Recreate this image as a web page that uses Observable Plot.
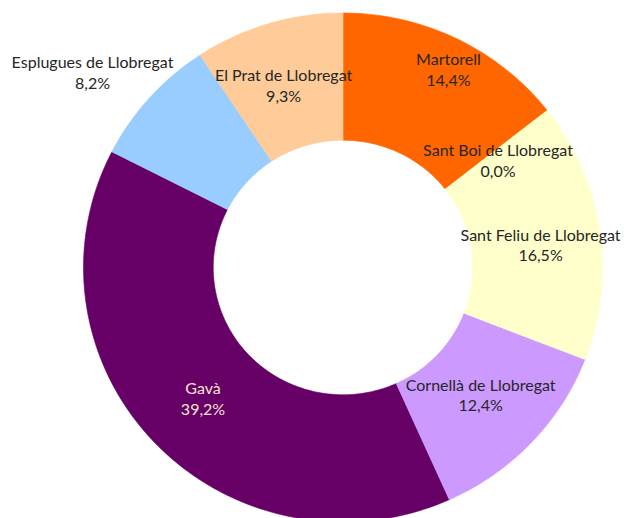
<!DOCTYPE html>
<html>
<head>
<meta charset="utf-8">
<script src="https://cdn.jsdelivr.net/npm/d3@7"></script>
<script src="https://cdn.jsdelivr.net/npm/@observablehq/plot@0.6"></script>
<style>
  html, body { margin: 0; padding: 0; background: #fff; }
</style>
</head>
<body>
<div id="chart"></div>
<script>
// Data (clockwise from 12 o'clock)
const categories = ["Martorell", "Sant Boi de Llobregat", "Sant Feliu de Llobregat", "Cornellà de Llobregat", "Gavà", "Esplugues de Llobregat", "El Prat de Llobregat"];
const values = [14.4, 0.0, 16.5, 12.4, 39.2, 8.2, 9.3];
const colors = ["#FF6600", "#FFCC00", "#FFFFCC", "#CC99FF", "#660066", "#99CCFF", "#FFCC99"];
// Layout: label radius (fraction of outer radius) and angular nudge (degrees)
const labelRadius = [0.876, 0.728, 0.766, 0.732, 0.747, 1.231, 0.747];
const labelNudge = [1.7, 3.3, 2.1, 0, -0.2, -3.4, -1.1];
const labelColors = ["#262626", "#262626", "#262626", "#262626", "#F5E4CC", "#262626", "#262626"];

const inner = 0.5, outer = 1;
const total = d3.sum(values);
const ends = d3.cumsum(values).map(v => v / total * 2 * Math.PI);
const starts = [0, ...ends.slice(0, -1)];

// Polygon points for each ring segment (in unit data space)
const pts = [];
categories.forEach((name, i) => {
  const a0 = starts[i], a1 = ends[i];
  if (a1 - a0 <= 0) return;
  const n = Math.max(2, Math.ceil((a1 - a0) / (Math.PI / 180)));
  for (let k = 0; k <= n; k++) {
    const a = a0 + (a1 - a0) * k / n;
    pts.push({name, x: outer * Math.sin(a), y: outer * Math.cos(a)});
  }
  for (let k = n; k >= 0; k--) {
    const a = a0 + (a1 - a0) * k / n;
    pts.push({name, x: inner * Math.sin(a), y: inner * Math.cos(a)});
  }
});

const fmt = v => v.toFixed(1).replace(".", ",") + "%";
const labels = categories.map((name, i) => {
  const a = (starts[i] + ends[i]) / 2 + labelNudge[i] * Math.PI / 180;
  const r = labelRadius[i];
  return {name, text: name + "\n" + fmt(values[i]), x: r * Math.sin(a), y: r * Math.cos(a), color: labelColors[i]};
});

const chart = Plot.plot({
  width: 624,
  height: 518,
  margin: 0,
  style: {fontFamily: "Lato, 'Open Sans', sans-serif", background: "#fff"},
  x: {domain: [-1, 1], range: [83, 602], axis: null},
  y: {domain: [-1, 1], range: [521.5, 12.5], axis: null},
  color: {domain: categories, range: colors},
  marks: [
    Plot.line(pts, {x: "x", y: "y", z: "name", fill: "name", stroke: "name", strokeWidth: 0.6, curve: "linear"}),
    Plot.text(labels, {x: "x", y: "y", text: "text", fill: "color", fontSize: 16, lineHeight: 1.3, dy: -1.5})
  ]
});
document.getElementById("chart").appendChild(chart);
</script>
</body>
</html>
